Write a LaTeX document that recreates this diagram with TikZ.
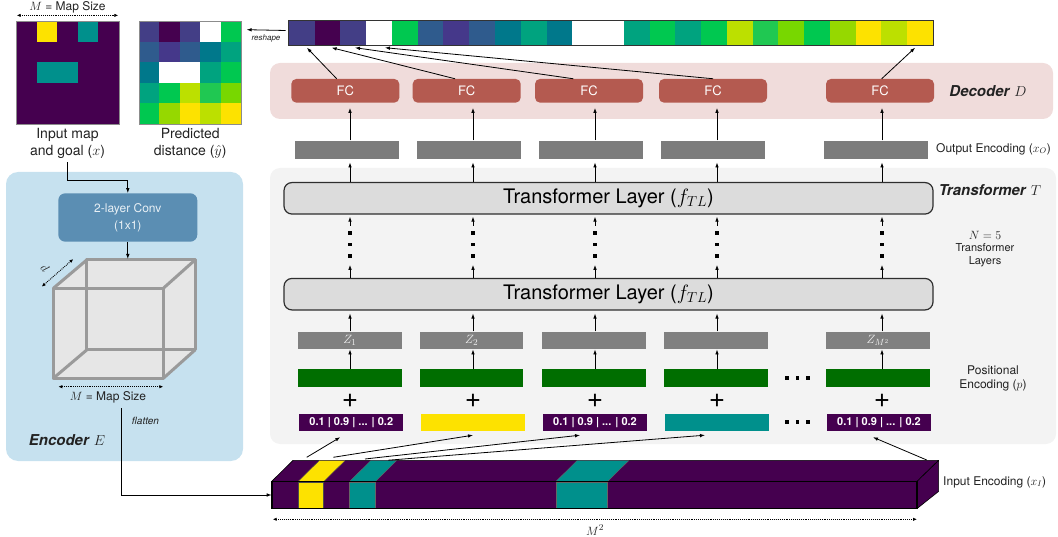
\documentclass[tikz,border=0pt]{standalone}
\usepackage{fontspec}
\setmainfont{TeX Gyre Heros}
\usetikzlibrary{arrows.meta,calc}

\newcommand\fsz[2]{\fontsize{#1}{#2}\selectfont}

% viridis-like palette
\definecolor{mpurple}{HTML}{45004F}
\definecolor{myellow}{HTML}{FDE200}
\definecolor{mteal}{HTML}{00908C}
\definecolor{cA}{HTML}{433E86}
\definecolor{cB}{HTML}{45014F}
\definecolor{cBl}{HTML}{2F5B8D}
\definecolor{cI}{HTML}{45388A}
\definecolor{cT}{HTML}{00788B}
\definecolor{cTG}{HTML}{00A37F}
\definecolor{cG}{HTML}{00C850}
\definecolor{cYG}{HTML}{BCE000}
\definecolor{cG2}{HTML}{20C852}
\definecolor{cL}{HTML}{78D700}
\definecolor{cL2}{HTML}{96D800}
\definecolor{cY}{HTML}{FDE200}
\definecolor{cW}{HTML}{FFFFFF}
% panels and boxes
\definecolor{decpanel}{HTML}{F0DCDB}
\definecolor{fcred}{HTML}{B45A50}
\definecolor{trpanel}{HTML}{F3F3F3}
\definecolor{layerfill}{HTML}{DCDCDC}
\definecolor{layeredge}{HTML}{2E2E2E}
\definecolor{outgray}{HTML}{7C7C7C}
\definecolor{zgray}{HTML}{808080}
\definecolor{ztext}{HTML}{F2F2F2}
\definecolor{pegreen}{HTML}{006E00}
\definecolor{encpanel}{HTML}{C6E1EF}
\definecolor{convblue}{HTML}{5B8EB3}
\definecolor{convtext}{HTML}{E8F0F5}
\definecolor{cubeedge}{HTML}{9A9A9A}
\definecolor{cubefill}{HTML}{E6E6E6}
\definecolor{ink}{HTML}{222222}

\tikzset{
  arr/.style={-{Latex[length=5pt,width=3.6pt]}, line width=0.8pt},
  dimarr/.style={{Latex[length=4pt,width=3.4pt]}-{Latex[length=4pt,width=3.4pt]}, densely dotted, line width=0.9pt},
  frame/.style={rectangle, draw=black!45, line width=0.6pt, inner sep=0pt},
  cell/.style={rectangle, inner sep=0pt, minimum width=25.9pt, minimum height=24pt},
  fcbox/.style={rectangle, rounded corners=5pt, fill=fcred, inner sep=0pt, minimum width=108pt, minimum height=23.7pt, text=white, font=\fsz{13}{15}},
  outbox/.style={rectangle, fill=outgray, inner sep=0pt, minimum width=104pt, minimum height=18.6pt},
  zbox/.style={rectangle, fill=zgray, inner sep=0pt, minimum width=103.5pt, minimum height=17.6pt, text=ztext, font=\fsz{13}{14}},
  pebox/.style={rectangle, fill=pegreen, inner sep=0pt, minimum width=103.5pt, minimum height=17.4pt},
  tokbox/.style={rectangle, inner sep=0pt, minimum width=104pt, minimum height=17pt, text=white, font=\bfseries\fsz{11}{13}},
  layer/.style={rectangle, rounded corners=8pt, draw=layeredge, line width=1.2pt, fill=layerfill, inner sep=0pt, minimum width=649pt, minimum height=31.5pt, font=\fsz{20}{24}},
  lbl/.style={font=\fsz{12}{14}, align=center, inner sep=0pt, text=ink},
  plus/.style={inner sep=0pt, font=\fsz{28}{28}},
  barface/.style={fill=mpurple, draw=black, line width=0.6pt, line join=round},
  cubeline/.style={draw=cubeedge, line width=3pt, line join=round, line cap=round},
}

\begin{document}
\begin{tikzpicture}[x=1pt,y=-1pt]
\useasboundingbox (0,0) rectangle (1058,537);

% ---------- background panels ----------
\fill[decpanel, rounded corners=10pt] (270,63) rectangle (1053,119);
\fill[trpanel, rounded corners=10pt] (270,168) rectangle (1056,444);
\fill[encpanel, rounded corners=12pt] (6,172) rectangle (243,461);

% ---------- input map ----------
\fill[mpurple] (16,21) rectangle (119,124);
\fill[myellow] (36.6,21) rectangle ++(20.6,20.6);
\fill[mteal] (77.8,21) rectangle ++(20.6,20.6);
\fill[mteal] (36.6,62.2) rectangle ++(41.2,20.6);
\node[frame, minimum width=103pt, minimum height=103pt] (inmap) at (67.5,72.5) {};
\node[lbl, font=\fsz{12}{13}] (msizetop) at (67.5,7.5) {$M$ = Map Size};
\draw[dimarr] ($(inmap.north west)+(1,-5.3)$) -- ($(inmap.north east)+(-1,-5.3)$);
\node[lbl, font=\fsz{14}{17.5}] (inlab) at (67.5,143.5) {Input map\\and goal ($x$)};

% ---------- predicted distance grid ----------
\foreach \c [count=\k from 0] in {cA,cB,cA,cW,cG,cBl,cI,cBl,cT,cTG,cT,cW,cW,cTG,cG,cTG,cG,cYG,cG2,cL,cG,cL2,cY,cYG,cY} {
  \pgfmathtruncatemacro\r{int(\k/5)}
  \pgfmathtruncatemacro\q{mod(\k,5)}
  \fill[\c] ({139+\q*20.46},{21+\r*20.6}) rectangle ++(20.56,20.7);
}
\node[frame, minimum width=102.3pt, minimum height=103pt] (pred) at (190.2,72.5) {};
\node[lbl, font=\fsz{14}{17.5}] (predlab) at (190.2,143.5) {Predicted\\distance ($\hat{y}$)};

% ---------- flattened output strip ----------
\foreach \c [count=\i from 0] in {cA,cB,cA,cW,cG,cBl,cI,cBl,cT,cTG,cT,cW,cW,cTG,cG,cTG,cG,cYG,cG2,cL,cG,cL2,cY,cYG,cY} {
  \node[cell, fill=\c] (s\i) at ({289+25.76*(\i+0.5)},33) {};
}
\draw[draw=black!80, line width=1.3pt] (s0.north west) rectangle (s24.south east);
\draw[arr] ($(s0.west)+(-3,-2.5)$) -- ($(pred.north east)+(5,9)$);
\node[font=\itshape\fsz{8}{9}, text=ink] (reshape) at (266,38) {reshape};

% ---------- decoder ----------
\node[fcbox] (fc1) at (345.3,90.8) {FC};
\node[fcbox] (fc2) at (466.7,90.8) {FC};
\node[fcbox] (fc3) at (589,90.8) {FC};
\node[fcbox] (fc4) at (713,90.8) {FC};
\node[fcbox] (fc5) at (880,90.8) {FC};
\node[lbl, font=\fsz{15}{17}] (declab) at (988,91) {\textbf{\textit{Decoder}} $D$};

\draw[arr] ($(fc1.north)+(-8.6,0)$) -- ($(s0.south)+(5,2.5)$);
\draw[arr] ($(fc2.north)+(-11.7,0)$) -- ($(s1.south)+(4,2.5)$);
\draw[arr] ($(fc3.north)+(-15.7,0)$) -- ($(s2.south)+(1.6,2.5)$);
\draw[arr] (fc4.north) -- ($(s3.south)+(5.8,2.5)$);
\draw[arr] ($(fc5.north)+(1.7,0)$) -- ($(s24.south)+(-5,2.5)$);

% ---------- output encoding ----------
\node[outbox] (oe1) at (347,150) {};
\node[outbox] (oe2) at (469,150) {};
\node[outbox] (oe3) at (591,150) {};
\node[outbox] (oe4) at (713,150) {};
\node[outbox] (oe5) at (875.5,150) {};
\node[lbl, anchor=west] (outlab) at (936,149) {Output Encoding ($x_O$)};

% column guides
\coordinate (k1) at (350,0);
\coordinate (k2) at (473,0);
\coordinate (k3) at (595,0);
\coordinate (k4) at (717,0);
\coordinate (k5) at (882,0);

% ---------- transformer ----------
\node[layer] (tlTop) at (608.5,198.3) {Transformer Layer ($f_{TL}$)};
\node[layer] (tlBot) at (608.5,294.2) {Transformer Layer ($f_{TL}$)};
\node[lbl, font=\fsz{15}{17}] (trlab) at (990,190) {\textbf{\textit{Transformer}} $T$};
\node[lbl, font=\fsz{13}{15}] (nlab) at (985,235) {$N=5$};
\node[lbl, font=\fsz{11}{12.7}] (nlab2) at (985,255.5) {Transformer\\Layers};

% ---------- token rows ----------
\node[zbox] (z1) at (350,340.5) {$Z_1$};
\node[zbox] (z2) at (471.7,340.5) {$Z_2$};
\node[zbox] (z3) at (594,340.5) {};
\node[zbox] (z4) at (716,340.5) {};
\node[zbox] (z5) at (878,340.5) {$Z_{M^2}$};

\node[pebox] (p1) at (350,378) {};
\node[pebox] (p2) at (471.7,378) {};
\node[pebox] (p3) at (594,378) {};
\node[pebox] (p4) at (716,378) {};
\node[pebox] (p5) at (878,378) {};

\node[tokbox, fill=mpurple] (t1) at (351.3,422.5) {0.1 | 0.9 | ... | 0.2};
\node[tokbox, fill=myellow] (t2) at (473,422.5) {};
\node[tokbox, fill=mpurple] (t3) at (595,422.5) {0.1 | 0.9 | ... | 0.2};
\node[tokbox, fill=mteal] (t4) at (717,422.5) {};
\node[tokbox, fill=mpurple] (t5) at (879,422.5) {0.1 | 0.9 | ... | 0.2};

\node[lbl] (poslab) at (993,378) {Positional\\Encoding ($p$)};

% column arrows, stacked dots and plus signs
\foreach \xx [count=\i] in {350,473,595,717,882} {
  \draw[arr, shorten >=5pt] (oe\i.north -| k\i) -- (fc\i.south -| k\i);
  \draw[arr, shorten >=3pt] (tlTop.north -| k\i) -- (oe\i.south -| k\i);
  \draw[arr] (tlBot.north -| k\i) -- ++(0,-13);
  \draw[arr, shorten >=2pt] ($(tlTop.south -| k\i)+(0,11)$) -- (tlTop.south -| k\i);
  \foreach \yy in {233,244.5,256}
    \fill ({\xx-1.7},{\yy-1.7}) rectangle ++(3.4,3.4);
  \draw[arr, shorten >=3pt] (z\i.north -| k\i) -- (tlBot.south -| k\i);
  \draw[arr] (p\i.north -| k\i) -- (z\i.south -| k\i);
  \node[plus] (plus\i) at (\xx,400.7) {+};
}

% ellipses between the last two columns
\foreach \yy in {378,421.7}
  \foreach \xx in {787,797.5,808}
    \fill ({\xx-1.8},{\yy-1.8}) rectangle ++(3.6,3.6);

% ---------- input encoding bar ----------
\node[draw=black, line width=0.6pt, fill=mpurple, inner sep=0pt, minimum width=644.7pt, minimum height=26.6pt] (bar) at (594.35,495) {};
\filldraw[barface] (bar.north west) -- ++(21.3,-21) -- ($(bar.north east)+(21.6,-21)$) -- (bar.north east) -- cycle;
\filldraw[barface] (bar.north east) -- ++(21.6,-21) -- ++(0,31) -- (bar.south east) -- cycle;
% goal cell
\filldraw[fill=myellow, draw=black!70, line width=0.4pt] (297.8,481.7) rectangle (323.6,508.3);
\filldraw[fill=myellow, draw=black!70, line width=0.4pt] (297.8,481.7) -- (319.1,460.7) -- (344.9,460.7) -- (323.6,481.7) -- cycle;
% obstacle cells
\filldraw[fill=mteal, draw=black!60, line width=0.4pt] (349.4,481.7) rectangle (375.2,508.3);
\filldraw[fill=mteal, draw=black!60, line width=0.4pt] (349.4,481.7) -- (370.7,460.7) -- (396.5,460.7) -- (375.2,481.7) -- cycle;
\filldraw[fill=mteal, draw=black!60, line width=0.4pt] (555.7,481.7) rectangle (607.3,508.3);
\filldraw[fill=mteal, draw=black!60, line width=0.4pt] (555.7,481.7) -- (577,460.7) -- (628.6,460.7) -- (607.3,481.7) -- cycle;
\draw[line width=0.6pt] (bar.north west) rectangle (bar.south east);

\node[lbl, anchor=west] (inenclab) at (943,482) {Input Encoding ($x_I$)};
\draw[dimarr] ($(bar.south west)+(1,10.7)$) -- ($(bar.south east)+(0,10.7)$);
\node[lbl, font=\fsz{13}{15}] (m2lab) at (595,530) {$M^2$};

% token arrows from the bar
\coordinate (u0) at (306.7,457.3);
\coordinate (u1) at (333.3,457.3);
\coordinate (u2) at (365,459);
\coordinate (u3) at (388.3,460.2);
\coordinate (u24) at (926.7,460);
\draw[arr] (u0) -- ($(t1.south)+(-11,6)$);
\draw[arr] (u1) -- ($(t2.south)+(0,4)$);
\draw[arr] (u2) -- ($(t3.south)+(-15,4)$);
\draw[arr] (u3) -- ($(t4.south)+(-12,4)$);
\draw[arr] (u24) -- ($(t5.south)+(-6,6)$);

% ---------- encoder ----------
\node[rectangle, rounded corners=7pt, fill=convblue, inner sep=0pt, minimum width=139pt, minimum height=48.4pt, text=convtext, align=center, font=\fsz{12}{17}] (conv) at (127.8,217.5) {2-layer Conv\\(1x1)};
\draw[arr, shorten <=3pt] (inlab.south) |- ($(conv.north)+(0,-13)$) -- (conv.north);

% feature cube
\fill[cubefill] (53.3,378.3) -- (53.3,288.3) -- (86.7,260) -- (195,260) -- (195,350) -- (163.3,378.3) -- cycle;
\draw[cubeline] (86.7,260) rectangle (195,350);
\draw[cubeline] (53.3,288.3) rectangle (163.3,378.3);
\draw[cubeline] (53.3,288.3) -- (86.7,260) (163.3,288.3) -- (195,260) (163.3,378.3) -- (195,350) (53.3,378.3) -- (86.7,350);
\coordinate (cubetop) at (126,259);
\draw[arr] (conv.south) -- (conv.south |- cubetop);

\draw[dimarr] (41.7,286.7) -- (73.3,259);
\node[lbl, font=\fsz{13}{15}, rotate=-49] (dlab) at (45,268) {$d$};
\draw[dimarr] (58.3,386.7) -- (163.3,386.7);
\node[lbl, font=\fsz{12}{13}] (msizecube) at (108,397) {$M$ = Map Size};
\node[lbl, font=\fsz{15}{17}] (enclab) at (67,440) {\textbf{\textit{Encoder}} $E$};

\coordinate (flat) at (121,408);
\draw[arr] (flat) |- (bar.west);
\node[font=\itshape\fsz{10}{12}, text=ink] (flatlab) at (145.5,421) {flatten};

\end{tikzpicture}
\end{document}
